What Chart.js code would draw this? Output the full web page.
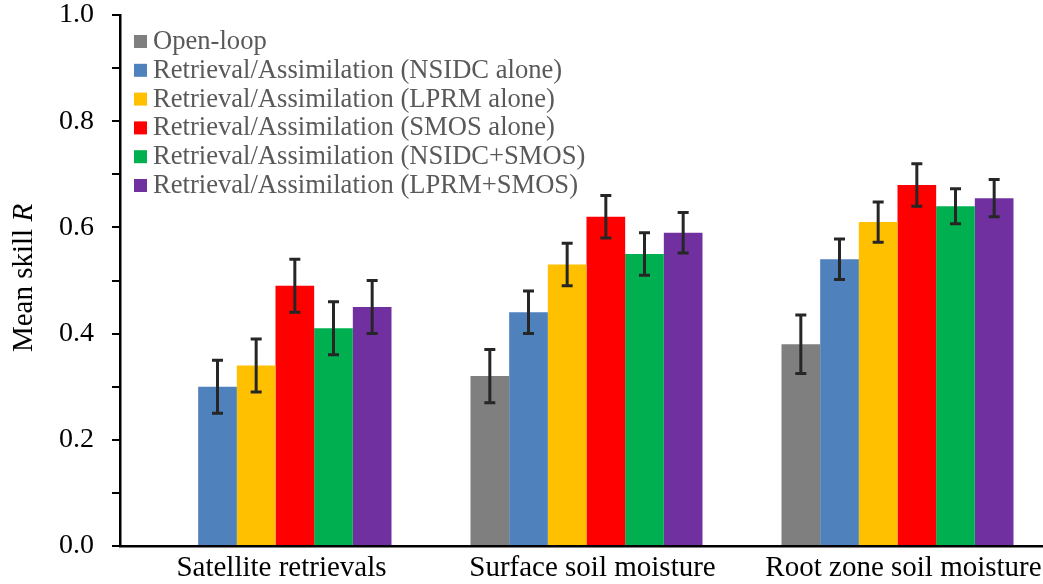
<!DOCTYPE html>
<html>
<head>
<meta charset="utf-8">
<script src="https://cdn.jsdelivr.net/npm/chart.js@4"></script>
<style>
  html, body { margin: 0; padding: 0; background: #fff; overflow: hidden; }
  #wrap { width: 1053px; height: 584px; }
</style>
</head>
<body>
<div id="wrap"><canvas id="skillChart"></canvas></div>
<script>
const categories = ['Satellite retrievals', 'Surface soil moisture', 'Root zone soil moisture'];

const openLoop = [null, 0.32, 0.38];
const openLoopErr = [null, 0.05, 0.055];
const nsidcAlone = [0.30, 0.44, 0.54];
const nsidcAloneErr = [0.05, 0.04, 0.038];
const lprmAlone = [0.34, 0.53, 0.61];
const lprmAloneErr = [0.05, 0.04, 0.038];
const smosAlone = [0.49, 0.62, 0.68];
const smosAloneErr = [0.05, 0.04, 0.04];
const nsidcSmos = [0.41, 0.55, 0.64];
const nsidcSmosErr = [0.05, 0.04, 0.033];
const lprmSmos = [0.45, 0.59, 0.655];
const lprmSmosErr = [0.05, 0.038, 0.035];

const yTicks = [0.0, 0.2, 0.4, 0.6, 0.8, 1.0];

const serif = '"Liberation Serif", "Times New Roman", serif';

function series(label, data, errors, color) {
    return { label: label, data: data, errors: errors, backgroundColor: color, borderWidth: 0 };
}

// whiskers drawn on top of each bar
const errorBars = {
    id: 'errorBars',
    afterDatasetsDraw(chart) {
        const ctx = chart.ctx;
        const y = chart.scales.y;
        ctx.save();
        ctx.strokeStyle = '#262626';
        ctx.lineWidth = 3;
        chart.data.datasets.forEach((ds, i) => {
            chart.getDatasetMeta(i).data.forEach((bar, j) => {
                const v = ds.data[j];
                const e = ds.errors[j];
                if (v == null || e == null) return;
                const top = y.getPixelForValue(v + e);
                const bot = y.getPixelForValue(v - e);
                ctx.beginPath();
                ctx.moveTo(bar.x, top); ctx.lineTo(bar.x, bot);
                ctx.moveTo(bar.x - 5.5, top); ctx.lineTo(bar.x + 5.5, top);
                ctx.moveTo(bar.x - 5.5, bot); ctx.lineTo(bar.x + 5.5, bot);
                ctx.stroke();
            });
        });
        ctx.restore();
    }
};

// stacked legend in the upper-left corner of the plot
const boxLegend = {
    id: 'boxLegend',
    afterDraw(chart) {
        const ctx = chart.ctx;
        ctx.save();
        ctx.font = '26.6px ' + serif;
        ctx.textBaseline = 'middle';
        chart.data.datasets.forEach((ds, i) => {
            const cy = 41 + i * 28.8;
            ctx.fillStyle = ds.backgroundColor;
            ctx.fillRect(134, cy - 6, 13, 13);
            ctx.fillStyle = '#595959';
            ctx.fillText(ds.label, 153, cy + 1);
        });
        ctx.restore();
    }
};

// y title with italic R
const yTitle = {
    id: 'yTitle',
    afterDraw(chart) {
        const ctx = chart.ctx;
        const a = 'Mean skill ';
        const b = 'R';
        ctx.save();
        ctx.translate(24, 278);
        ctx.rotate(-Math.PI / 2);
        ctx.fillStyle = '#000';
        ctx.textBaseline = 'middle';
        ctx.font = '29px ' + serif;
        const wa = ctx.measureText(a).width;
        ctx.font = 'italic 29px ' + serif;
        const wb = ctx.measureText(b).width;
        const x = -(wa + wb) / 2;
        ctx.font = '29px ' + serif;
        ctx.fillText(a, x, 0);
        ctx.font = 'italic 29px ' + serif;
        ctx.fillText(b, x + wa, 0);
        ctx.restore();
    }
};

new Chart(document.getElementById('skillChart'), {
    type: 'bar',
    data: {
        labels: categories,
        datasets: [
            series('Open-loop', openLoop, openLoopErr, '#7f7f7f'),
            series('Retrieval/Assimilation (NSIDC alone)', nsidcAlone, nsidcAloneErr, '#4f81bd'),
            series('Retrieval/Assimilation (LPRM alone)', lprmAlone, lprmAloneErr, '#ffc000'),
            series('Retrieval/Assimilation (SMOS alone)', smosAlone, smosAloneErr, '#ff0000'),
            series('Retrieval/Assimilation (NSIDC+SMOS)', nsidcSmos, nsidcSmosErr, '#00b050'),
            series('Retrieval/Assimilation (LPRM+SMOS)', lprmSmos, lprmSmosErr, '#7030a0')
        ]
    },
    options: {
        responsive: true,
        maintainAspectRatio: false,
        animation: false,
        layout: { padding: { top: 15, left: 0, right: 0, bottom: 0 } },
        datasets: { bar: { categoryPercentage: 0.746, barPercentage: 1.0 } },
        plugins: { legend: { display: false }, tooltip: { enabled: false } },
        scales: {
            x: {
                afterFit: s => { s.height = 38; s.paddingLeft = 0; s.paddingRight = 0; },
                grid: { display: false },
                border: { display: true, color: '#000', width: 2.5 },
                ticks: { color: '#000', font: { family: serif, size: 29 }, padding: -3, labelOffset: 6, maxRotation: 0 }
            },
            y: {
                min: 0,
                max: 1,
                afterFit: s => { s.width = 120; s.paddingTop = 0; s.paddingBottom = 0; },
                grid: { drawOnChartArea: false, drawTicks: true, tickLength: 8, color: '#000', lineWidth: 2 },
                border: { display: true, color: '#000', width: 2.5 },
                ticks: {
                    stepSize: 0.1,
                    autoSkip: false,
                    padding: 18,
                    color: '#000',
                    font: { family: serif, size: 28 },
                    callback: v => {
                        const hit = yTicks.find(t => Math.abs(t - v) < 1e-6);
                        return hit === undefined ? '' : hit.toFixed(1);
                    }
                }
            }
        }
    },
    plugins: [errorBars, boxLegend, yTitle]
});
</script>
</body>
</html>
